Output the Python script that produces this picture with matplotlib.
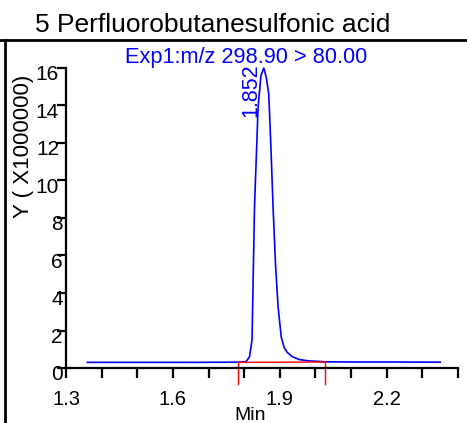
import matplotlib
matplotlib.use("Agg")
import matplotlib.pyplot as plt
from matplotlib.lines import Line2D
from matplotlib.transforms import offset_copy

plt.rcParams['font.family'] = ['Liberation Sans', 'DejaVu Sans']

# Chromatogram data (time in min, intensity in x1e6)
times = [1.36, 1.50, 1.65, 1.78, 1.805, 1.815, 1.822, 1.829, 1.839, 1.847, 1.855,
         1.862, 1.869, 1.875, 1.881, 1.888, 1.895, 1.904, 1.912, 1.920, 1.935,
         1.955, 1.98, 2.03, 2.10, 2.20, 2.35]
intensity = [0.30, 0.30, 0.30, 0.31, 0.33, 0.6, 1.5, 8.6, 13.9, 15.6, 16.0,
             15.5, 14.6, 11.8, 8.6, 5.5, 3.3, 1.65, 1.1, 0.85, 0.6,
             0.45, 0.38, 0.33, 0.32, 0.32, 0.31]
# Integration baseline (red)
base_t = [1.782, 2.028]
base_v = [0.30, 0.32]
peak_rt = "1.852"

x_ticks = [1.3, 1.4, 1.5, 1.6, 1.7, 1.8, 1.9, 2.0, 2.1, 2.2, 2.3, 2.4]
x_labels = ["1.3", "", "", "1.6", "", "", "1.9", "", "", "2.2", "", ""]
y_ticks = [0, 2, 4, 6, 8, 10, 12, 14, 16]
y_labels = ["0", "2", "4", "6", "8", "10", "12", "14", "16"]

title = "5 Perfluorobutanesulfonic acid"
trace_label = "Exp1:m/z 298.90 > 80.00"

W, H = 467, 423
fig = plt.figure(figsize=(W / 100, H / 100), dpi=100)
ax = fig.add_axes([66 / W, 1 - 368 / H, 392 / W, 300 / H])

ax.plot(times, intensity, color='#0000ff', lw=1.2, clip_on=False)
ax.plot(base_t, base_v, color='#ff0000', lw=1.0, clip_on=False)
for t, v in zip(base_t, base_v):
    ax.plot([t, t], [v, -0.85], color='#ff0000', lw=1.0, clip_on=False)

ax.set_xlim(1.3, 2.4)
ax.set_ylim(0, 16)
ax.set_xticks(x_ticks)
ax.set_xticklabels(x_labels)
ax.set_yticks(y_ticks)
ax.spines['top'].set_visible(False)
ax.spines['right'].set_visible(False)
for s in ['left', 'bottom']:
    ax.spines[s].set_linewidth(1.6)
ax.tick_params(axis='x', direction='out', length=7.5, width=1.6, pad=8, labelsize=14.5)
ax.tick_params(axis='y', direction='out', length=6.5, width=1.6, labelleft=False)

# y tick labels: drawn at tick positions, overlapping tick marks as in the original
ytrans = ax.get_yaxis_transform()
for val, lab in zip(y_ticks, y_labels):
    dx = -7 if len(lab) > 1 else -3
    tr = offset_copy(ytrans, fig=fig, x=dx, y=3, units='dots')
    ax.text(0, val, lab, transform=tr, ha='right', va='top', fontsize=15,
            clip_on=False)

ax.text(1.852 - 0.005, 16.25, peak_rt, rotation=90, color='#0000ff', fontsize=15.5,
        ha='right', va='top')

fig.text(246 / W, 1 - 63 / H, trace_label, color='#0000ff', fontsize=15.7,
         ha='center', va='baseline')
fig.text(35 / W, 1 - 32 / H, title, color='black', fontsize=19,
         ha='left', va='baseline')
fig.text(24 / W, 1 - 146 / H, "Y ( X1000000)", rotation=90, fontsize=16,
         ha='center', va='center')
fig.text(250 / W, 1 - 407 / H, "Min", fontsize=14, ha='center', va='top')

fig.add_artist(Line2D([0, 1], [1 - 40 / H, 1 - 40 / H], color='black', lw=2,
                      transform=fig.transFigure))
fig.add_artist(Line2D([5 / W, 5 / W], [0, 1 - 40 / H], color='black', lw=2,
                      transform=fig.transFigure))

fig.savefig("out.png", dpi=100)
